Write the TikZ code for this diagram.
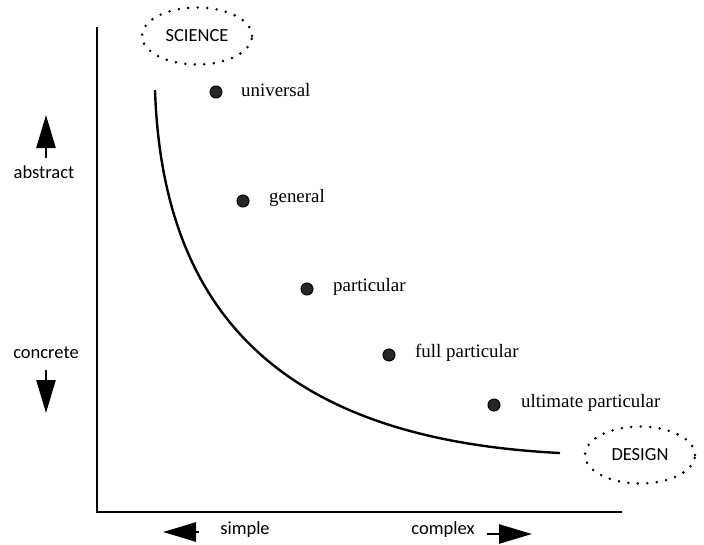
\documentclass[tikz,border=0pt]{standalone}
\usepackage{fontspec}
\setmainfont{Liberation Serif}
\newfontfamily\calib{Carlito}
\usetikzlibrary{shapes.geometric,arrows.meta}
\begin{document}
\begin{tikzpicture}[x=1pt,y=-1pt,
  axis/.style={line width=2.6pt},
  curve/.style={line width=2.4pt},
  dotted ell/.style={ellipse, draw, line width=2.8pt, line cap=round, dash pattern=on 0pt off 9.5pt, minimum width=110pt, minimum height=57pt, inner sep=0pt, font=\calib\fontsize{18.5}{21}\selectfont},
  pt/.style={circle, fill=black!85, draw=black, line width=1pt, minimum size=12pt, inner sep=0pt},
  lab/.style={anchor=west, inner sep=0pt, font=\fontsize{18.9}{22}\selectfont},
  side/.style={inner sep=0pt, font=\calib\fontsize{18.5}{21}\selectfont},
  bigarrow/.style={line width=2.6pt, -{Triangle[length=33pt,width=19pt]}}
]
\useasboundingbox (0,0) rectangle (704,544);
% axes
\coordinate (top) at (97,27);
\coordinate (origin) at (97,512);
\coordinate (right) at (622,512);
\draw[axis] (top) -- (origin) -- (right);
% ellipses
\node[dotted ell] (science) at (197,36) {SCIENCE};
\node[dotted ell] (design) at (640,455) {DESIGN};
% curve
\coordinate (cstart) at (155,90);
\coordinate (cend) at (560,453);
\draw[curve] (cstart) .. controls (163,330) and (300,440) .. (cend);
% points
\node[pt] (p1) at (216,92) {};
\node[pt] (p2) at (243,201) {};
\node[pt] (p3) at (307,289) {};
\node[pt] (p4) at (389,355) {};
\node[pt] (p5) at (494,405) {};
\node[lab] (l1) at (241,90) {universal};
\node[lab] (l2) at (269,198) {general};
\node[lab] (l3) at (333,287) {particular};
\node[lab] (l4) at (415,353) {full particular};
\node[lab] (l5) at (521,403) {ultimate particular};
% side labels
\node[side] (abstract) at (44,172) {abstract};
\node[side] (concrete) at (46,353) {concrete};
\node[side] (simple) at (245,530) {simple};
\node[side] (complex) at (443,530) {complex};
% arrows
\coordinate (a1s) at (46,158); \coordinate (a1e) at (46,115);
\coordinate (a2s) at (46,370); \coordinate (a2e) at (46,413);
\coordinate (a3s) at (199,532); \coordinate (a3e) at (163,532);
\coordinate (a4s) at (487,534); \coordinate (a4e) at (532,534);
\draw[bigarrow] (a1s) -- (a1e);
\draw[bigarrow] (a2s) -- (a2e);
\draw[bigarrow] (a3s) -- (a3e);
\draw[bigarrow] (a4s) -- (a4e);
\end{tikzpicture}
\end{document}
